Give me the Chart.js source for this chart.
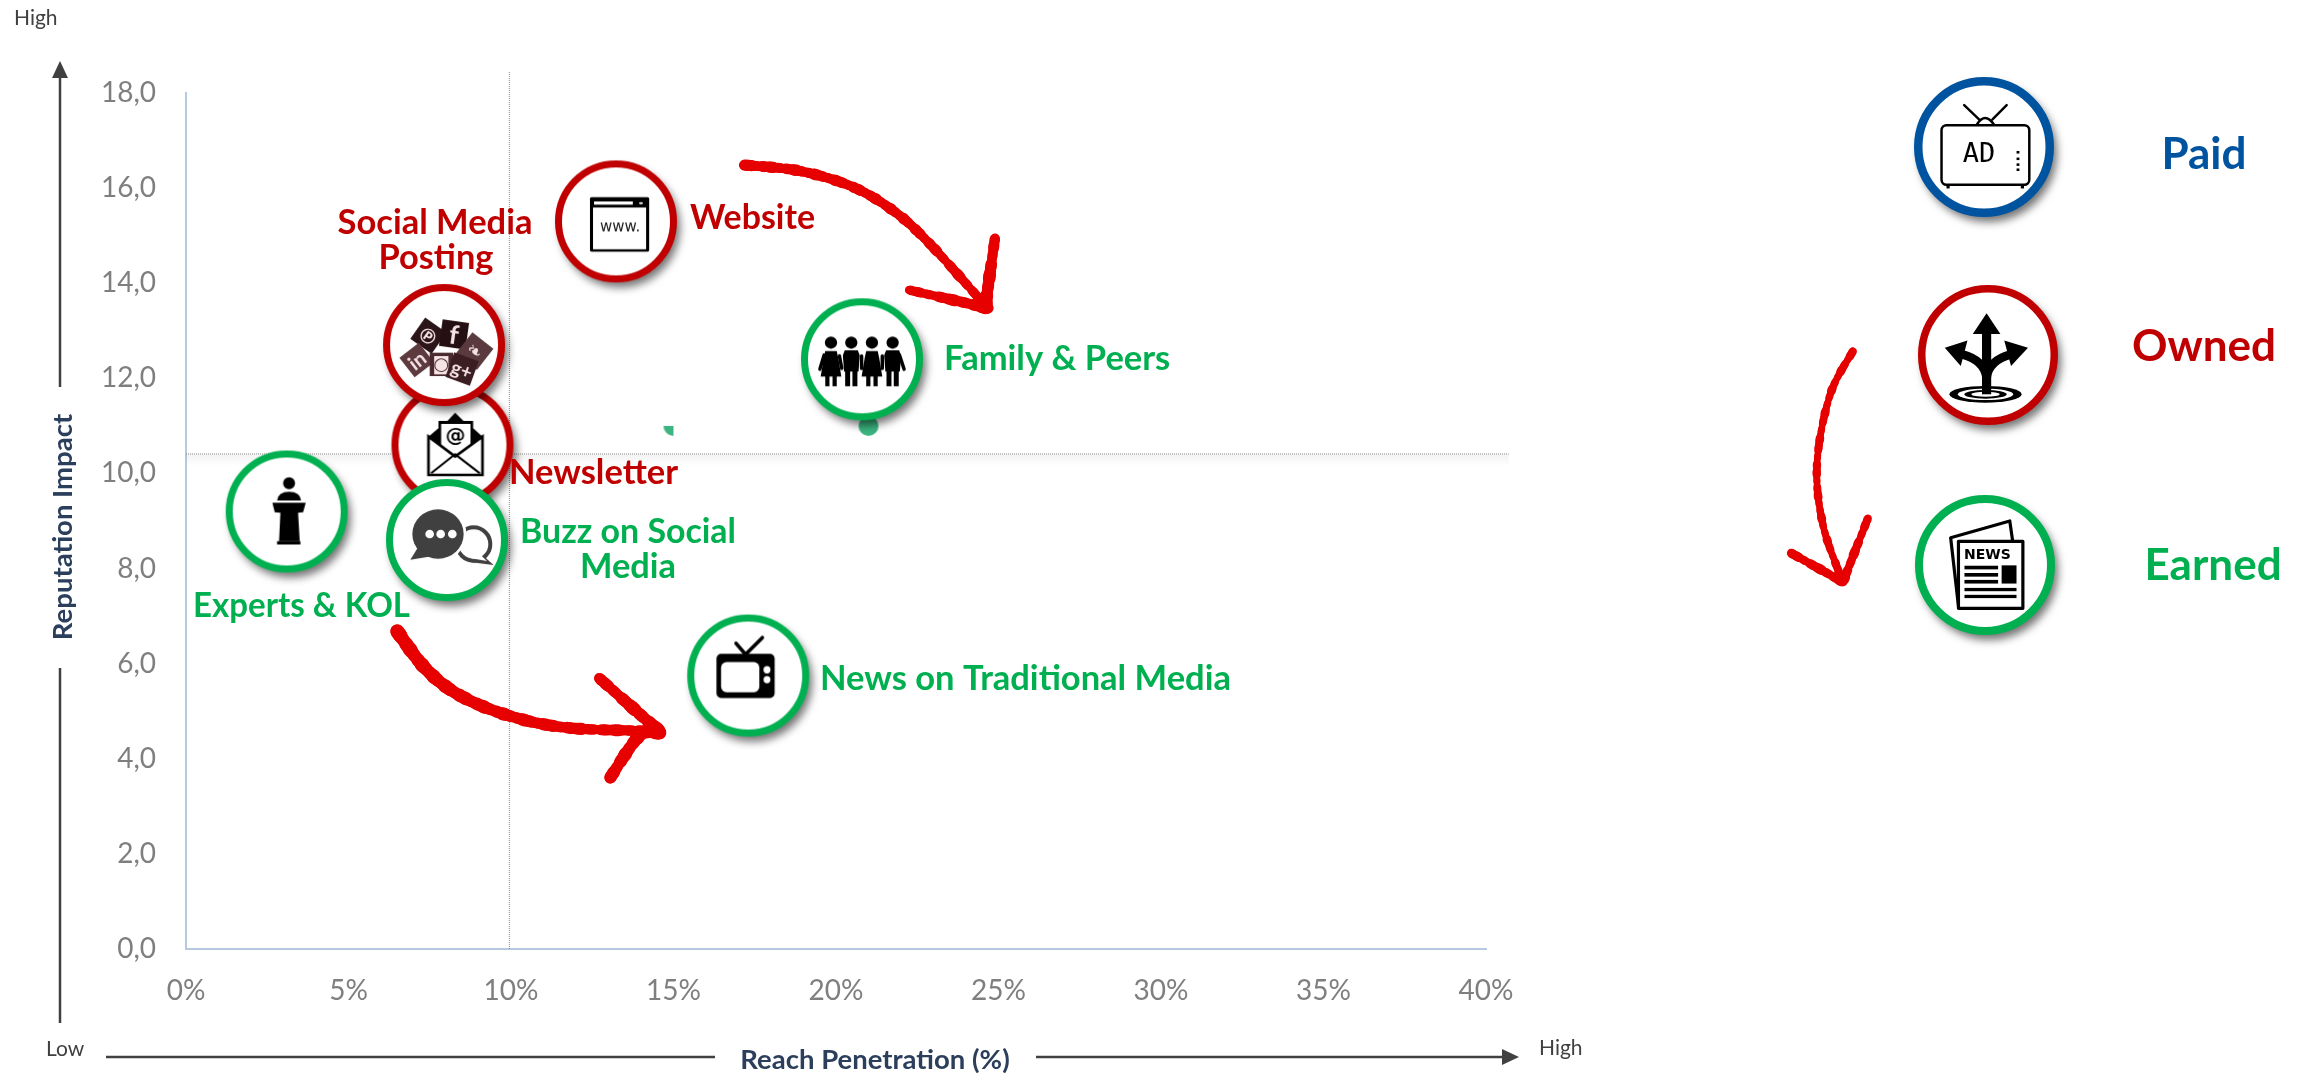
<!DOCTYPE html>
<html>
<head>
<meta charset="utf-8">
<title>Reach vs Reputation</title>
<script src="https://cdn.jsdelivr.net/npm/chart.js@4/dist/chart.umd.min.js"></script>
<style>
  html, body { margin: 0; padding: 0; background: #fff; overflow: hidden; }
  canvas { display: block; }
</style>
</head>
<body>
<canvas id="chart" width="2305" height="1073"></canvas>
<script>
'use strict';

// values
var ownedNames = ['Website', 'Newsletter', 'Social Media Posting'];
var ownedReach = [13.23, 8.2, 7.94];
var ownedImpact = [15.3, 10.6, 12.7];

var earnedNames = ['Family & Peers', 'Experts & KOL', 'News on Traditional Media', 'Buzz on Social Media'];
var earnedReach = [20.8, 3.1, 17.3, 8.03];
var earnedImpact = [12.4, 9.2, 5.75, 8.6];

var dotReach = [21, 15];
var dotImpact = [11, 11];

var crossReach = 9.95;
var crossImpact = 10.41;
var crossReachEnd = 40.7;
var crossImpactEnd = 18.46;

var xTickLabels = ['0%', '5%', '10%', '15%', '20%', '25%', '30%', '35%', '40%'];
var yTickLabels = ['0,0', '2,0', '4,0', '6,0', '8,0', '10,0', '12,0', '14,0', '16,0', '18,0'];

var RED = '#C00000';
var GREEN = '#00B050';
var BLUE = '#00539F';
var FONT = 'Lato, Carlito, sans-serif';

function toPoints(xs, ys) {
  return xs.map(function (x, i) { return { x: x, y: ys[i] }; });
}

// ---- icons, sketched in the pixel space of a blown up crop ----

function poly(ctx, pts) {
  ctx.beginPath();
  ctx.moveTo(pts[0], pts[1]);
  for (var i = 2; i < pts.length; i += 2) ctx.lineTo(pts[i], pts[i + 1]);
  ctx.closePath();
}

function ell(ctx, x, y, rx, ry) {
  ctx.beginPath();
  ctx.ellipse(x, y, rx, ry, 0, 0, Math.PI * 2);
}

function iconText(ctx, text, x, y, font, sx, sy, color) {
  ctx.save();
  ctx.translate(x, y);
  ctx.scale(sx, sy);
  ctx.font = font;
  ctx.fillStyle = color || '#000';
  ctx.textAlign = 'center';
  ctx.textBaseline = 'middle';
  ctx.fillText(text, 0, 0);
  ctx.restore();
}

function website(ctx) {
  ctx.scale(1 / 1.96, 1 / 2.8);
  ctx.translate(-1208, -615);
  ctx.fillStyle = '#000';
  ctx.beginPath();
  ctx.roundRect(1157, 547, 116, 153, 4);
  ctx.fill();
  ctx.fillStyle = '#fff';
  ctx.fillRect(1163, 576, 104, 117);
  ctx.fillRect(1165, 559, 76, 9);
  ell(ctx, 1257, 564, 4, 3);
  ctx.fill();
  iconText(ctx, 'www.', 1216, 632, '15px "DejaVu Sans"', 1.96, 2.8, '#222');
}

function socialTile(ctx, x, y, size, rot, color, letter, font) {
  ctx.save();
  ctx.translate(x, y);
  ctx.rotate(rot * Math.PI / 180);
  ctx.fillStyle = color;
  ctx.fillRect(-size / 2, -size / 2, size, size);
  iconText(ctx, letter, 0, 4, font, 3, 3, '#f6e3e5');
  ctx.restore();
}

function social(ctx) {
  ctx.scale(1 / 3, 1 / 3);
  ctx.translate(-220, -190);
  socialTile(ctx, 173, 162, 78, 35, '#2c1518', '℗', 'bold 20px Lato');
  socialTile(ctx, 250, 158, 80, 8, '#241013', 'f', 'bold 26px Lato');
  socialTile(ctx, 312, 208, 80, 38, '#5a3a3d', '❧', '18px "DejaVu Sans"');
  socialTile(ctx, 138, 235, 74, -38, '#5d3a3e', 'in', 'bold 20px Lato');
  socialTile(ctx, 212, 248, 70, 0, '#4a2a2e', '◙', '18px "DejaVu Sans"');
  socialTile(ctx, 274, 262, 78, 20, '#3a1e22', 'g+', 'bold 19px Lato');
}

function newsletter(ctx) {
  ctx.scale(1 / 3, 1 / 3);
  ctx.translate(-250, -490);
  ctx.fillStyle = '#000';
  poly(ctx, [178, 465, 208, 440, 208, 418, 235, 418, 258, 393, 283, 418, 312, 418, 312, 440, 340, 465, 340, 520, 178, 520]);
  ctx.fill();
  ctx.fillStyle = '#fff';
  ctx.fillRect(216, 427, 88, 100);
  iconText(ctx, '@', 259, 466, 'bold 20px "DejaVu Sans"', 3, 3);
  poly(ctx, [178, 465, 258, 525, 340, 465, 340, 580, 178, 580]);
  ctx.fillStyle = '#fff';
  ctx.fill();
  ctx.strokeStyle = '#000';
  ctx.lineWidth = 8;
  ctx.stroke();
  ctx.lineWidth = 6;
  ctx.beginPath();
  ctx.moveTo(186, 575);
  ctx.lineTo(258, 518);
  ctx.lineTo(332, 575);
  ctx.stroke();
}

function buzz(ctx) {
  ctx.scale(1 / 3, 1 / 3);
  ctx.translate(-232, -783);
  ctx.fillStyle = '#404040';
  ell(ctx, 312, 795, 56, 56);
  ctx.fill();
  poly(ctx, [335, 825, 372, 858, 295, 848]);
  ctx.fill();
  ctx.fillStyle = '#fff';
  ell(ctx, 312, 795, 44, 44);
  ctx.fill();
  poly(ctx, [330, 825, 352, 846, 305, 838]);
  ctx.fill();
  ctx.strokeStyle = '#fff';
  ctx.lineWidth = 10;
  ell(ctx, 205, 765, 80, 78);
  ctx.stroke();
  ctx.fillStyle = '#404040';
  ell(ctx, 205, 765, 77, 74);
  ctx.fill();
  poly(ctx, [145, 805, 122, 842, 185, 832]);
  ctx.fill();
  ctx.fillStyle = '#fff';
  [180, 213, 248].forEach(function (x) {
    ell(ctx, x, 765, 13, 13);
    ctx.fill();
  });
}

function speaker(ctx) {
  ctx.scale(1 / 3, 1 / 3);
  ctx.translate(-171, -183);
  ctx.fillStyle = '#000';
  ell(ctx, 178, 98, 18, 18);
  ctx.fill();
  ctx.beginPath();
  ctx.moveTo(142, 150);
  ctx.quadraticCurveTo(145, 124, 178, 124);
  ctx.quadraticCurveTo(211, 124, 214, 150);
  ctx.closePath();
  ctx.fill();
  poly(ctx, [128, 157, 228, 157, 220, 185, 205, 187, 210, 272, 148, 272, 152, 187, 135, 185]);
  ctx.fill();
  ctx.fillRect(142, 272, 70, 10);
}

function family(ctx) {
  ctx.scale(1 / 2.613, 1 / 2.45);
  ctx.translate(-425, -558);
  ctx.fillStyle = '#000';
  ctx.strokeStyle = '#000';
  ctx.lineCap = 'round';
  [344, 397, 451, 505].forEach(function (x, i) {
    ell(ctx, x, 517, 16, 15);
    ctx.fill();
    if (i % 2 === 0) {
      poly(ctx, [x - 15, 538, x + 15, 538, x + 19, 555, x + 27, 600, x - 27, 600, x - 19, 555]);
      ctx.fill();
      ctx.fillRect(x - 15, 598, 11, 26);
      ctx.fillRect(x + 4, 598, 11, 26);
    } else {
      poly(ctx, [x - 17, 536, x + 17, 536, x + 22, 548, x + 19, 588, x - 19, 588, x - 22, 548]);
      ctx.fill();
      ctx.fillRect(x - 16, 585, 13, 39);
      ctx.fillRect(x + 3, 585, 13, 39);
    }
  });
  ctx.lineWidth = 9;
  ctx.beginPath();
  ctx.moveTo(326, 548);
  ctx.lineTo(315, 582);
  ctx.moveTo(523, 548);
  ctx.lineTo(535, 582);
  ctx.moveTo(366, 550);
  ctx.lineTo(372, 580);
  ctx.moveTo(424, 550);
  ctx.lineTo(424, 580);
  ctx.moveTo(478, 550);
  ctx.lineTo(478, 580);
  ctx.stroke();
}

function tv(ctx) {
  ctx.scale(1 / 2.613, 1 / 2.45);
  ctx.translate(-127, -1337);
  ctx.strokeStyle = '#000';
  ctx.lineWidth = 9;
  ctx.lineCap = 'round';
  ctx.beginPath();
  ctx.moveTo(95, 1258);
  ctx.lineTo(120, 1285);
  ctx.lineTo(164, 1244);
  ctx.stroke();
  ctx.fillStyle = '#000';
  ctx.beginPath();
  ctx.roundRect(44, 1284, 152, 108, 12);
  ctx.fill();
  ctx.fillStyle = '#fff';
  ctx.beginPath();
  ctx.roundRect(56, 1304, 100, 74, 14);
  ctx.fill();
  ell(ctx, 176, 1323, 9, 9);
  ctx.fill();
  ell(ctx, 176, 1347, 9, 9);
  ctx.fill();
}

function adTv(ctx) {
  ctx.scale(1 / 2.825, 1 / 2.75);
  ctx.translate(-662, -158);
  ctx.strokeStyle = '#000';
  ctx.fillStyle = '#000';
  ctx.lineWidth = 7;
  ctx.lineCap = 'round';
  ctx.beginPath();
  ctx.moveTo(606, 43);
  ctx.lineTo(648, 82);
  ctx.moveTo(726, 43);
  ctx.lineTo(686, 82);
  ctx.moveTo(642, 96);
  ctx.quadraticCurveTo(665, 60, 690, 96);
  ctx.stroke();
  ctx.beginPath();
  ctx.roundRect(542, 98, 248, 164, 14);
  ctx.stroke();
  ctx.fillRect(556, 262, 9, 10);
  ctx.fillRect(766, 262, 9, 10);
  iconText(ctx, 'AD', 648, 181, '27px "DejaVu Sans Mono"', 2.825, 2.75);
  [172, 190, 206, 220].forEach(function (y) {
    ctx.fillRect(754, y - 3, 8, 7);
  });
}

function roads(ctx) {
  ctx.scale(1 / 2.825, 1 / 2.75);
  ctx.translate(-672, -730);
  ctx.fillStyle = '#000';
  ctx.strokeStyle = '#000';
  ell(ctx, 665, 838, 102, 23);
  ctx.fill();
  ctx.fillStyle = '#fff';
  ell(ctx, 665, 838, 78, 16);
  ctx.fill();
  ctx.fillStyle = '#000';
  ell(ctx, 665, 838, 60, 12);
  ctx.fill();
  ctx.fillStyle = '#fff';
  ell(ctx, 665, 838, 40, 7);
  ctx.fill();
  ctx.fillStyle = '#000';
  ctx.lineWidth = 26;
  ctx.beginPath();
  ctx.moveTo(668, 665);
  ctx.lineTo(668, 838);
  ctx.stroke();
  ctx.lineWidth = 24;
  ctx.beginPath();
  ctx.moveTo(668, 795);
  ctx.quadraticCurveTo(664, 745, 598, 728);
  ctx.moveTo(668, 795);
  ctx.quadraticCurveTo(672, 745, 738, 728);
  ctx.stroke();
  poly(ctx, [668, 615, 707, 672, 629, 672]);
  ctx.fill();
  poly(ctx, [550, 710, 614, 690, 595, 760]);
  ctx.fill();
  poly(ctx, [785, 710, 718, 690, 737, 760]);
  ctx.fill();
}

function paper(ctx) {
  ctx.scale(1 / 2.825, 1 / 2.75);
  ctx.translate(-665, -1307);
  ctx.strokeStyle = '#000';
  ctx.fillStyle = '#000';
  ctx.lineWidth = 9;
  ctx.lineJoin = 'round';
  ctx.beginPath();
  ctx.moveTo(590, 1420);
  ctx.lineTo(568, 1232);
  ctx.lineTo(735, 1186);
  ctx.lineTo(743, 1240);
  ctx.stroke();
  ctx.fillStyle = '#fff';
  ctx.fillRect(590, 1242, 182, 184);
  ctx.strokeRect(590, 1242, 182, 184);
  ctx.fillStyle = '#000';
  iconText(ctx, 'NEWS', 672, 1280, 'bold 14px "DejaVu Sans"', 2.825, 2.75);
  ctx.fillRect(712, 1308, 42, 50);
  [1314, 1334, 1353].forEach(function (y) {
    ctx.fillRect(607, y - 5, 95, 10);
  });
  [1375, 1394].forEach(function (y) {
    ctx.fillRect(607, y - 5, 147, 9);
  });
}

// ring with white face and a soft shadow to the lower right
function makeBadge(color, outer, ring, icon) {
  var c = document.createElement('canvas');
  c.width = c.height = (outer + 24) * 2;
  var ctx = c.getContext('2d');
  ctx.translate(outer + 24, outer + 24);
  ctx.save();
  ctx.shadowColor = 'rgba(0,0,0,0.55)';
  ctx.shadowBlur = 9;
  ctx.shadowOffsetX = 4;
  ctx.shadowOffsetY = 6;
  ctx.fillStyle = '#fff';
  ell(ctx, 0, 0, outer - 1, outer - 1);
  ctx.fill();
  ctx.restore();
  ctx.strokeStyle = color;
  ctx.lineWidth = ring;
  ell(ctx, 0, 0, outer - ring / 2, outer - ring / 2);
  ctx.stroke();
  ctx.save();
  icon(ctx);
  ctx.restore();
  return c;
}

function makeDot(quarter) {
  var c = document.createElement('canvas');
  c.width = c.height = 22;
  var ctx = c.getContext('2d');
  ctx.fillStyle = '#3CB582';
  ctx.beginPath();
  if (quarter) {
    // most of this point is hidden in the source, only a corner shows
    ctx.moveTo(11, 11);
    ctx.arc(11, 11, 10, Math.PI / 2, Math.PI);
    ctx.closePath();
  } else {
    ctx.arc(11, 11, 10, 0, Math.PI * 2);
  }
  ctx.fill();
  return c;
}

var ownedStyles = [website, newsletter, social].map(function (f) { return makeBadge(RED, 61, 7, f); });
var earnedStyles = [family, speaker, tv, buzz].map(function (f) { return makeBadge(GREEN, 61, 7, f); });
var paidBadge = makeBadge(BLUE, 70, 8.5, adTv);
var ownedBadge = makeBadge(RED, 70, 7.5, roads);
var earnedBadge = makeBadge(GREEN, 70, 8, paper);

// ---- hand drawn red arrows ----

function catmull(pts, steps) {
  var out = [];
  for (var i = 0; i < pts.length - 1; i++) {
    var p0 = pts[Math.max(i - 1, 0)], p1 = pts[i], p2 = pts[i + 1], p3 = pts[Math.min(i + 2, pts.length - 1)];
    for (var s = 0; s < steps; s++) {
      var t = s / steps, t2 = t * t, t3 = t2 * t;
      out.push([
        0.5 * (2 * p1[0] + (p2[0] - p0[0]) * t + (2 * p0[0] - 5 * p1[0] + 4 * p2[0] - p3[0]) * t2 + (3 * p1[0] - p0[0] - 3 * p2[0] + p3[0]) * t3),
        0.5 * (2 * p1[1] + (p2[1] - p0[1]) * t + (2 * p0[1] - 5 * p1[1] + 4 * p2[1] - p3[1]) * t2 + (3 * p1[1] - p0[1] - 3 * p2[1] + p3[1]) * t3)
      ]);
    }
  }
  out.push(pts[pts.length - 1]);
  return out;
}

// short stamps with a wobbling width give the dry brush edge
function brush(ctx, pts, w0, w1) {
  var line = catmull(pts, 30);
  ctx.strokeStyle = '#E60000';
  ctx.lineCap = 'round';
  for (var i = 0; i < line.length - 1; i++) {
    var f = i / (line.length - 1);
    ctx.lineWidth = w0 + (w1 - w0) * f + Math.sin(i * 1.7) * 1 + Math.sin(i * 0.53) * 0.8;
    ctx.beginPath();
    ctx.moveTo(line[i][0], line[i][1]);
    ctx.lineTo(line[i + 1][0], line[i + 1][1]);
    ctx.stroke();
  }
}

function redArrows(ctx) {
  // Website -> Family
  brush(ctx, [[744, 165], [800, 171], [853, 187], [895, 212], [930, 244], [985, 305]], 10, 9);
  brush(ctx, [[995, 238], [985, 308]], 9, 13);
  brush(ctx, [[909, 290], [988, 308]], 8, 12);
  // Experts -> News
  brush(ctx, [[397, 631], [425, 668], [459, 695], [510, 716], [570, 728], [660, 731]], 13, 10);
  brush(ctx, [[599, 678], [660, 732]], 10, 13);
  brush(ctx, [[610, 778], [640, 735], [660, 733]], 11, 13);
  // Owned -> Earned
  brush(ctx, [[1853, 351], [1830, 395], [1817, 464], [1823, 525], [1842, 580]], 7, 7);
  brush(ctx, [[1868, 518], [1843, 582]], 7, 9);
  brush(ctx, [[1791, 553], [1843, 582]], 8, 9);
}

// ---- everything around the plot ----

var labelSpots = [
  ['Social Media', 435, 223, 'center', RED, 195],
  ['Posting', 436, 258, 'center', RED, 115],
  ['Website', 690, 218, 'left', RED, 125],
  ['Newsletter', 509, 473, 'left', RED, 169],
  ['Buzz on Social', 628, 532, 'center', GREEN, 216],
  ['Media', 628, 567, 'center', GREEN, 96],
  ['Experts & KOL', 193, 606, 'left', GREEN, 217],
  ['Family & Peers', 944, 359, 'left', GREEN, 227],
  ['News on Traditional Media', 820, 679, 'left', GREEN, 413]
];

var keySpots = [
  ['Paid', 2204, 155, BLUE, paidBadge, 1984, 147],
  ['Owned', 2204, 347, RED, ownedBadge, 1988, 355],
  ['Earned', 2213, 566, GREEN, earnedBadge, 1985, 565]
];

function axisArrow(ctx, x0, y0, x1, y1, head) {
  ctx.strokeStyle = '#404040';
  ctx.fillStyle = '#404040';
  ctx.lineWidth = 2.5;
  ctx.beginPath();
  ctx.moveTo(x0, y0);
  ctx.lineTo(x1, y1);
  ctx.stroke();
  if (head) {
    if (x0 === x1) poly(ctx, [x1, y1 - 16, x1 + 8, y1 + 1, x1 - 8, y1 + 1]);
    else poly(ctx, [x1 + 16, y1, x1 - 1, y1 - 8, x1 - 1, y1 + 8]);
    ctx.fill();
  }
}

var decorations = {
  id: 'decorations',
  beforeDatasetsDraw: function (chart) {
    var ctx = chart.ctx;
    var y = chart.scales.y.getPixelForValue(crossImpact);
    var grad = ctx.createLinearGradient(0, y, 0, y + 12);
    grad.addColorStop(0, 'rgba(0,0,0,0.05)');
    grad.addColorStop(1, 'rgba(0,0,0,0)');
    ctx.fillStyle = grad;
    ctx.fillRect(chart.chartArea.left, y, chart.scales.x.getPixelForValue(crossReachEnd) - chart.chartArea.left, 12);
  },
  afterDatasetsDraw: function (chart) {
    var ctx = chart.ctx;
    ctx.save();

    // axis arrows, broken where the titles sit
    axisArrow(ctx, 60, 1023, 60, 668, false);
    axisArrow(ctx, 60, 387, 60, 77, true);
    axisArrow(ctx, 106, 1057, 715, 1057, false);
    axisArrow(ctx, 1036, 1057, 1503, 1057, true);

    ctx.textBaseline = 'middle';
    ctx.font = '21px ' + FONT;
    ctx.fillStyle = '#404040';
    ctx.textAlign = 'left';
    ctx.fillText('High', 14, 18);
    ctx.fillText('Low', 46, 1049);
    ctx.fillText('High', 1539, 1048);

    ctx.fillStyle = '#2B3F5C';
    ctx.font = 'bold 27.5px ' + FONT;
    ctx.textAlign = 'center';
    ctx.fillText('Reach Penetration (%)', 875, 1060);
    ctx.save();
    ctx.translate(63, 527);
    ctx.rotate(-Math.PI / 2);
    ctx.fillText('Reputation Impact', 0, 0);
    ctx.restore();

    redArrows(ctx);

    // point names
    ctx.font = 'bold 34.5px ' + FONT;
    labelSpots.forEach(function (l) {
      ctx.textAlign = l[3];
      ctx.fillStyle = l[4];
      ctx.fillText(l[0], l[1], l[2], l[5]);
    });

    // key on the right
    ctx.font = 'bold 44px ' + FONT;
    ctx.textAlign = 'center';
    keySpots.forEach(function (k) {
      ctx.drawImage(k[4], k[5] - k[4].width / 2, k[6] - k[4].height / 2);
      ctx.fillStyle = k[3];
      ctx.fillText(k[0], k[1], k[2]);
    });

    ctx.restore();
  }
};

var crossStyle = {
  showLine: true,
  pointRadius: 0,
  borderColor: '#8C8C8C',
  borderWidth: 1,
  borderDash: [1, 1],
  clip: false
};

new Chart(document.getElementById('chart'), {
  type: 'scatter',
  data: {
    datasets: [
      Object.assign({ label: 'Quadrant X', order: 5, data: toPoints([crossReach, crossReach], [0, crossImpactEnd]) }, crossStyle),
      Object.assign({ label: 'Quadrant Y', order: 4, data: toPoints([0, crossReachEnd], [crossImpact, crossImpact]) }, crossStyle),
      { label: 'Dots', order: 3, data: toPoints(dotReach, dotImpact), pointStyle: [makeDot(false), makeDot(true)], pointRadius: 10, clip: false },
      { label: 'Owned', order: 2, data: toPoints(ownedReach, ownedImpact), pointStyle: ownedStyles, pointRadius: 30, clip: false },
      { label: 'Earned', order: 1, data: toPoints(earnedReach, earnedImpact), pointStyle: earnedStyles, pointRadius: 30, clip: false }
    ]
  },
  options: {
    responsive: false,
    animation: false,
    events: [],
    layout: { padding: { left: 0, top: 93, right: 819, bottom: 0 } },
    plugins: {
      legend: { display: false },
      tooltip: { enabled: false },
      title: { display: false }
    },
    scales: {
      x: {
        type: 'linear',
        min: 0,
        max: 40,
        afterFit: function (scale) { scale.height = 124; },
        grid: { display: false, drawTicks: false },
        border: { display: true, color: '#B7C9DF', width: 2 },
        ticks: {
          stepSize: 5,
          padding: 25,
          maxRotation: 0,
          autoSkip: false,
          color: '#7F7F7F',
          font: { family: FONT, size: 28 },
          callback: function (v, i) { return xTickLabels[i]; }
        }
      },
      y: {
        min: 0,
        max: 18,
        afterFit: function (scale) { scale.width = 186; },
        grid: { display: false, drawTicks: false },
        border: { display: true, color: '#B7C9DF', width: 2 },
        ticks: {
          stepSize: 2,
          padding: 30,
          autoSkip: false,
          color: '#7F7F7F',
          font: { family: FONT, size: 28 },
          callback: function (v, i) { return yTickLabels[i]; }
        }
      }
    }
  },
  plugins: [decorations]
});
</script>
</body>
</html>
